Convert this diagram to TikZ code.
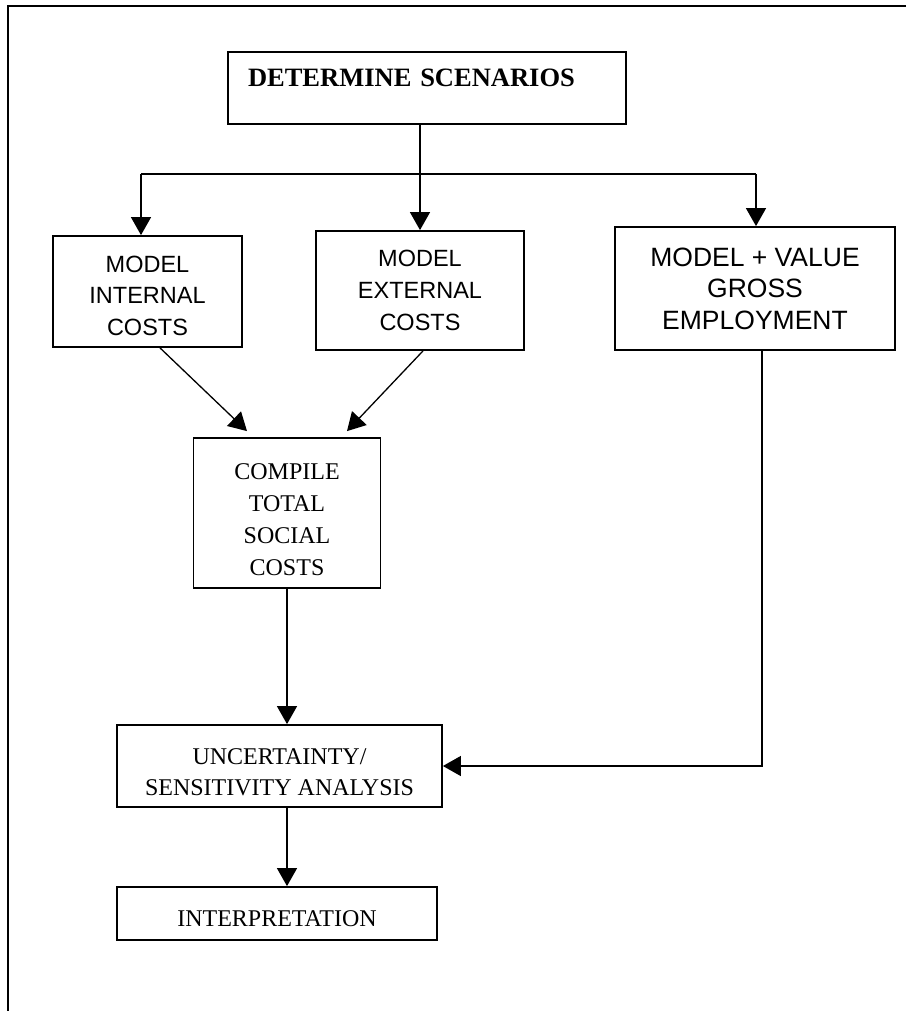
\documentclass[tikz,border=0pt]{standalone}
\usepackage{fontspec}
\setmainfont{Liberation Serif}
\newfontfamily\arialfont{Liberation Sans}
\usepackage{tikz}
\usetikzlibrary{arrows.meta,positioning,calc}
\tikzset{
  flowbox/.style={draw, line width=1.8pt, inner sep=0pt, align=center},
  serifbox/.style={flowbox, font=\fontsize{24}{32}\selectfont},
  sansbox/.style={flowbox, font=\arialfont\fontsize{23.5}{31.7}\selectfont},
  flowarr/.style={-{Triangle[length=18pt,width=20pt]}, line width=1.3pt},
  flowline/.style={line width=1.3pt},
}

\begin{document}
\begin{tikzpicture}[x=1pt,y=-1pt]
  \useasboundingbox (0,0) rectangle (906,1011);
  \draw[line width=1.8pt] (906,6) -- (8,6) -- (8,1011);
  \node[flowbox, font=\bfseries\fontsize{26.5}{30}\selectfont, text width=358pt, align=left,
        inner xsep=20pt, minimum height=72pt, text height=17pt, text depth=19pt] (det) at (427,88)
       {DETERMINE SCENARIOS};
  \node[sansbox, minimum width=189pt, minimum height=111pt] (intl) at (147.5,291.5)
       {\rule{0pt}{25pt}MODEL\\INTERNAL\\COSTS};
  \node[sansbox, minimum width=208pt, minimum height=119pt] (extl) at (420,290.5)
       {MODEL\\EXTERNAL\\COSTS};
  \node[sansbox, font=\arialfont\fontsize{26.5}{31.5}\selectfont, minimum width=280pt,
        minimum height=123pt] (gross) at (755,288.5)
       {MODEL + VALUE\\GROSS\\EMPLOYMENT};
  \node[serifbox, minimum width=187pt, minimum height=150pt] (comp) at (287,513)
       {\rule{0pt}{29pt}COMPILE\\TOTAL\\SOCIAL\\COSTS};
  \node[serifbox, font=\fontsize{24}{31}\selectfont, minimum width=325pt, minimum height=82pt]
       (unc) at (279.5,766) {\rule{0pt}{29pt}UNCERTAINTY/\\SENSITIVITY ANALYSIS};
  \node[serifbox, minimum width=320pt, minimum height=53pt] (interp) at (277,913.5)
       {\rule{0pt}{27pt}INTERPRETATION};
  \coordinate (fork) at (420,174);
  \coordinate (intlin) at ([xshift=-6.5pt]intl.north);
  \coordinate (grossin) at ([xshift=1pt]gross.north);
  \draw[flowarr] (det.south -| fork) -- (extl.north);
  \draw[flowline] (intlin |- fork) -- (grossin |- fork);
  \draw[flowarr] (intlin |- fork) -- (intlin);
  \draw[flowarr] (grossin |- fork) -- (grossin);
  \draw[flowarr] ([xshift=12.5pt]intl.south) -- ([xshift=-40pt,yshift=6pt]comp.north);
  \draw[flowarr] ([xshift=3pt]extl.south) -- ([xshift=60pt,yshift=6pt]comp.north);
  \draw[flowarr] (comp.south) -- (comp.south |- unc.north);
  \draw[flowarr] (unc.south -| comp.south) -- (interp.north -| comp.south);
  \draw[flowarr] ([xshift=7pt]gross.south) |- (unc.east);
\end{tikzpicture}
\end{document}
